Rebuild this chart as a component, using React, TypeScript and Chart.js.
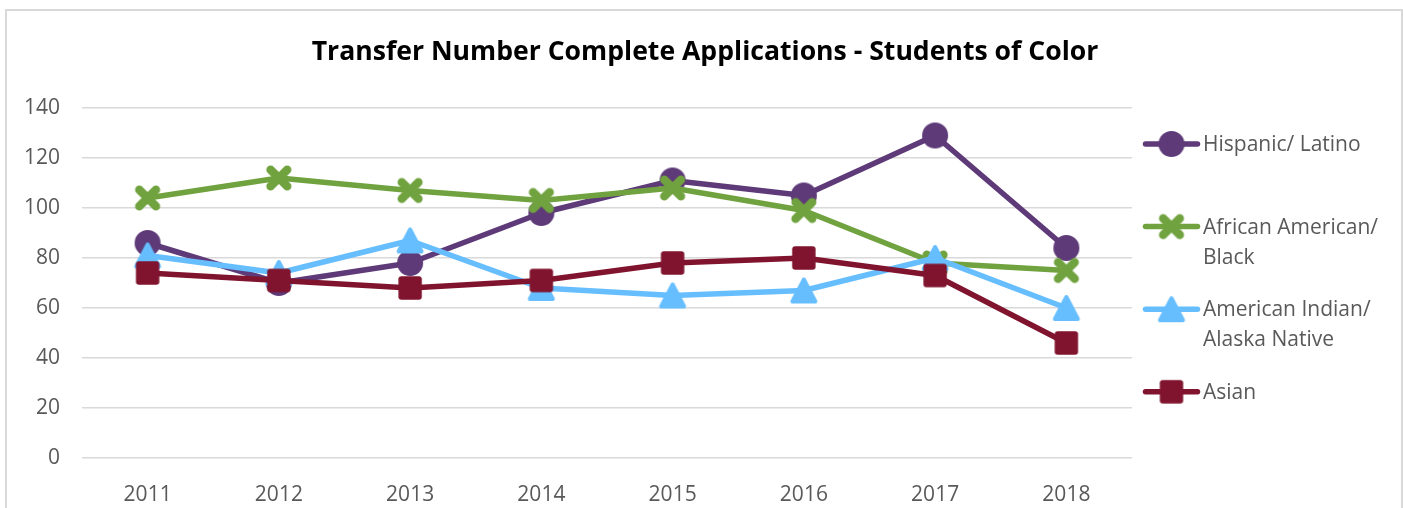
import React, { useEffect, useRef } from "react";
import { Chart, registerables } from "chart.js";

Chart.register(...registerables);

const chartTitle = "Transfer Number Complete Applications - Students of Color";
const years = ["2011", "2012", "2013", "2014", "2015", "2016", "2017", "2018"];
const seriesNames = [
  "Hispanic/ Latino",
  "African American/ Black",
  "American Indian/ Alaska Native",
  "Asian",
];
const hispanicLatino = [86, 70, 78, 98, 111, 105, 129, 84];
const africanAmericanBlack = [104, 112, 107, 103, 108, 99, 78, 75];
const americanIndianAlaskaNative = [81, 74, 87, 68, 65, 67, 80, 60];
const asian = [74, 71, 68, 71, 78, 80, 73, 46];
const yMin = 0;
const yMax = 140;
const yStep = 20;

const seriesValues = [hispanicLatino, africanAmericanBlack, americanIndianAlaskaNative, asian];
const colors = ["#5E3A78", "#70A33F", "#66BEFF", "#80142E"];
const markerKinds = ["circle", "cross", "triangle", "square"];
const FONT = "'Open Sans', 'Noto Sans', sans-serif";
const TEXT_COLOR = "#595959";

function makeMarker(kind: string, color: string): HTMLCanvasElement {
  const c = document.createElement("canvas");
  c.width = 34;
  c.height = 34;
  const ctx = c.getContext("2d")!;
  const m = 17;
  ctx.fillStyle = color;
  ctx.strokeStyle = color;
  if (kind === "circle") {
    ctx.beginPath();
    ctx.arc(m, m, 13, 0, Math.PI * 2);
    ctx.fill();
  } else if (kind === "cross") {
    ctx.lineWidth = 8.5;
    ctx.lineCap = "round";
    ctx.beginPath();
    ctx.moveTo(m - 8.3, m - 8.3);
    ctx.lineTo(m + 8.3, m + 8.3);
    ctx.moveTo(m + 8.3, m - 8.3);
    ctx.lineTo(m - 8.3, m + 8.3);
    ctx.stroke();
  } else if (kind === "triangle") {
    ctx.lineWidth = 4;
    ctx.lineJoin = "round";
    ctx.beginPath();
    ctx.moveTo(m, m - 11);
    ctx.lineTo(m + 11.5, m + 11);
    ctx.lineTo(m - 11.5, m + 11);
    ctx.closePath();
    ctx.fill();
    ctx.stroke();
  } else {
    ctx.beginPath();
    (ctx as any).roundRect(m - 11.7, m - 11.7, 23.4, 23.4, 3);
    ctx.fill();
  }
  return c;
}

function wrapText(ctx: CanvasRenderingContext2D, text: string, maxWidth: number): string[] {
  const words = text.split(" ");
  const lines: string[] = [];
  let cur = "";
  for (const w of words) {
    const test = cur ? cur + " " + w : w;
    if (ctx.measureText(test).width > maxWidth && cur) {
      lines.push(cur);
      cur = w;
    } else {
      cur = test;
    }
  }
  if (cur) lines.push(cur);
  return lines;
}

export default function App() {
  const ref = useRef<HTMLCanvasElement>(null);

  useEffect(() => {
    const canvas = ref.current!;
    const markers = markerKinds.map((k, i) => makeMarker(k, colors[i]));

    const decorPlugin = {
      id: "decor",
      afterDraw(chart: any) {
        const ctx: CanvasRenderingContext2D = chart.ctx;
        ctx.save();
        // title
        ctx.fillStyle = "#000000";
        ctx.font = `bold 26.6px ${FONT}`;
        ctx.textAlign = "center";
        ctx.textBaseline = "alphabetic";
        ctx.fillText(chartTitle, 705, 60);
        // legend
        const legendX = 1143;
        const lineEnd = 1200;
        const textX = 1203;
        const firstY = 144;
        const stepY = 82.6;
        ctx.font = `21px ${FONT}`;
        ctx.textAlign = "left";
        ctx.textBaseline = "middle";
        seriesNames.forEach((name, i) => {
          const y = firstY + i * stepY;
          ctx.strokeStyle = colors[i];
          ctx.lineWidth = 5.5;
          ctx.lineCap = "round";
          ctx.beginPath();
          ctx.moveTo(legendX + 2.5, y);
          ctx.lineTo(lineEnd - 2.5, y);
          ctx.stroke();
          const mk = markers[i];
          ctx.drawImage(mk, (legendX + lineEnd) / 2 - mk.width / 2, y - mk.height / 2);
          ctx.fillStyle = TEXT_COLOR;
          const lines = wrapText(ctx, name, 190);
          lines.forEach((ln, j) => ctx.fillText(ln, textX, y + 1 + j * 30));
        });
        ctx.restore();
      },
    };

    const chart = new Chart(canvas, {
      type: "line",
      data: {
        labels: years,
        datasets: seriesNames.map((name, i) => ({
          label: name,
          data: seriesValues[i],
          borderColor: colors[i],
          backgroundColor: colors[i],
          borderWidth: 5.5,
          borderJoinStyle: "round" as const,
          borderCapStyle: "round" as const,
          pointStyle: markers[i] as any,
          pointRadius: 13,
          pointHoverRadius: 13,
          order: seriesNames.length - i,
          tension: 0,
          fill: false,
        })),
      },
      options: {
        animation: false,
        responsive: false,
        maintainAspectRatio: false,
        events: [],
        layout: { padding: { left: 0, top: 108, right: 271, bottom: 0 } },
        plugins: {
          legend: { display: false },
          tooltip: { enabled: false },
          title: { display: false },
        },
        scales: {
          x: {
            type: "category",
            offset: true,
            grid: { display: false },
            border: { display: false },
            ticks: {
              color: TEXT_COLOR,
              font: { family: FONT, size: 21 },
              padding: 16,
              maxRotation: 0,
              autoSkip: false,
            },
            afterFit: (s: any) => {
              s.height = 50;
            },
          },
          y: {
            min: yMin,
            max: yMax,
            ticks: {
              stepSize: yStep,
              color: TEXT_COLOR,
              font: { family: FONT, size: 21 },
              padding: 22,
            },
            grid: { color: "#D9D9D9", lineWidth: 1.5, drawTicks: false },
            border: { display: false },
            afterFit: (s: any) => {
              s.width = 82;
            },
          },
        },
      },
      plugins: [decorPlugin],
    });
    return () => chart.destroy();
  }, []);

  return (
    <div style={{ position: "fixed", left: 0, top: 0, width: 1403, height: 508, background: "#fff", overflow: "hidden" }}>
      <div
        style={{
          position: "absolute",
          left: 5,
          top: 9,
          width: 1398,
          height: 520,
          border: "2px solid #D9D9D9",
          boxSizing: "border-box",
        }}
      />
      <canvas ref={ref} width={1403} height={508} style={{ position: "absolute", left: 0, top: 0, width: 1403, height: 508 }} />
    </div>
  );
}
